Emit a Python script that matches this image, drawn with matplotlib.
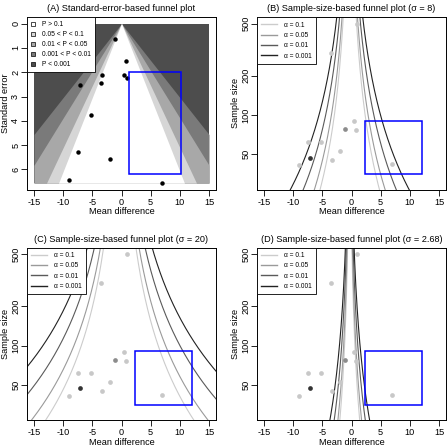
import numpy as np
import matplotlib
matplotlib.use("Agg")
import matplotlib.pyplot as plt
from matplotlib.patches import Patch, Rectangle
from matplotlib.lines import Line2D

plt.rcParams['font.family'] = ['Liberation Sans', 'DejaVu Sans']
plt.rcParams['axes.unicode_minus'] = False

# study data
mean_diff = [-1.2, 0.8, -3.3, 0.5, 0.9, -3.5, -7.05, -5.2, -7.5, -2.0, -9.05, 7.0]
std_err = [0.62, 1.53, 2.11, 2.10, 2.25, 2.44, 2.53, 3.77, 5.27, 5.55, 6.44, 6.56]
sample_n = [78, 76, 45, 89, 500, 300, 47, 62, 62, 53, 41, 42]
point_shade = ['mid', 'light', 'light', 'light', 'light', 'light', 'dark',
               'light', 'light', 'light', 'light', 'light']

# contour levels
alphas = ['0.1', '0.05', '0.01', '0.001']
z_vals = [1.645, 1.96, 2.576, 3.29]
p_labels = ['P > 0.1', '0.05 < P < 0.1', '0.01 < P < 0.05', '0.001 < P < 0.01', 'P < 0.001']
sigmas = [8, 20, 2.68]
panel_tags = ['(B)', '(C)', '(D)']
pooled = -0.3

# blue boxes [x0, x1, y0, y1]
box_se = [1.3, 10.2, 2.0, 6.19]
box_n = [2.3, 12.0, 35.3, 90]

shade_cols = ['#ffffff', '#d6d6d6', '#a8a8a8', '#7a7a7a', '#4d4d4d']
line_cols = ['#cccccc', '#9a9a9a', '#5a5a5a', '#222222']
pt_cols = {'light': '#c8c8c8', 'mid': '#8c8c8c', 'dark': '#333333'}

FS = 6.6
W = 447.0


def px_axes(fig, l, t, r, b):
  return fig.add_axes([l / W, 1 - b / W, (r - l) / W, (b - t) / W])


def style(ax):
  for s in ax.spines.values():
    s.set_linewidth(0.7)
  ax.tick_params(length=4.3, width=0.6, labelsize=FS, pad=1.6)
  ax.tick_params(axis='y', pad=0.6)
  ax.set_xlim(-16.2, 16.2)
  ax.set_xticks([-15, -10, -5, 0, 5, 10, 15])
  ax.set_xlabel('Mean difference', fontsize=FS, labelpad=0.5)


def rotate_y(ax):
  for lab in ax.get_yticklabels():
    lab.set_rotation(90)
    lab.set_va('center')


fig = plt.figure(figsize=(4.47, 4.47), dpi=100)

# (A) standard-error-based
ax = px_axes(fig, 27, 17.2, 216, 189.5)
se_max = max(std_err)
se_grid = np.linspace(0, se_max, 300)
ax.fill_between([-15, 15], 0, se_max, color=shade_cols[4], lw=0)
for i, z in enumerate(z_vals[::-1]):
  half = np.minimum(z * se_grid, 15)
  ax.fill_betweenx(se_grid, -half, half, color=shade_cols[3 - i], lw=0)
ax.plot(mean_diff, std_err, 'o', color='black', ms=3.2, mec='none')
ax.add_patch(Rectangle((box_se[0], box_se[2]), box_se[1] - box_se[0], box_se[3] - box_se[2],
                       fill=False, ec='#0000ff', lw=1.1, zorder=5))
rng = se_max * 0.04
ax.set_ylim(se_max + rng, -rng)
ax.set_yticks(range(7))
style(ax)
rotate_y(ax)
ax.set_ylabel('Standard error', fontsize=FS, labelpad=0.5)
ax.set_title('(A) Standard-error-based funnel plot', fontsize=FS, pad=4.5)
hands = [Patch(fc=c, ec='black', lw=0.5) for c in shade_cols]
leg = ax.legend(hands, p_labels, loc='upper left', bbox_to_anchor=(0, 1), borderaxespad=0,
                fontsize=4.8, fancybox=False, framealpha=1, edgecolor='black',
                handlelength=0.6, handleheight=0.6, handletextpad=1.0, labelspacing=0.45,
                borderpad=0.6)
leg.get_frame().set_linewidth(0.6)
leg.set_zorder(10)

# (B)-(D) sample-size-based
n_grid = np.geomspace(15, 800, 300)
lo, hi = np.log10(30), np.log10(500)
ext = (hi - lo) * 0.04
places = [(257, 17.2, 446, 189.5), (27, 247.8, 216, 420.2), (257, 247.8, 446, 420.2)]
for k, sig in enumerate(sigmas):
  ax = px_axes(fig, *places[k])
  se_n = 2 * sig / np.sqrt(n_grid)
  for z, c in zip(z_vals, line_cols):
    ax.plot(pooled - z * se_n, n_grid, color=c, lw=0.8)
    ax.plot(pooled + z * se_n, n_grid, color=c, lw=0.8)
  for x, nn, s in zip(mean_diff, sample_n, point_shade):
    ax.plot(x, nn, 'o', color=pt_cols[s], ms=3.4, mec='none')
  ax.add_patch(Rectangle((box_n[0], box_n[2]), box_n[1] - box_n[0], box_n[3] - box_n[2],
                         fill=False, ec='#0000ff', lw=1.1, zorder=5))
  ax.set_yscale('log')
  ax.set_ylim(10 ** (lo - ext), 10 ** (hi + ext))
  ax.set_yticks([50, 100, 200, 500])
  ax.set_yticklabels(['50', '100', '200', '500'])
  ax.minorticks_off()
  style(ax)
  rotate_y(ax)
  ax.set_ylabel('Sample size', fontsize=FS, labelpad=0.5)
  ax.set_title(panel_tags[k] + ' Sample-size-based funnel plot (σ = ' + str(sig) + ')',
               fontsize=FS, pad=4.5)
  hands = [Line2D([], [], color=c, lw=1.0) for c in line_cols]
  leg = ax.legend(hands, ['α = ' + a for a in alphas], loc='upper left', bbox_to_anchor=(0, 1),
                  borderaxespad=0, fontsize=4.8, fancybox=False, framealpha=1,
                  edgecolor='black', handlelength=2.3, handletextpad=1.1,
                  labelspacing=0.5, borderpad=0.65)
  leg.get_frame().set_linewidth(0.6)
  leg.set_zorder(10)

fig.savefig('out.png', dpi=100)
